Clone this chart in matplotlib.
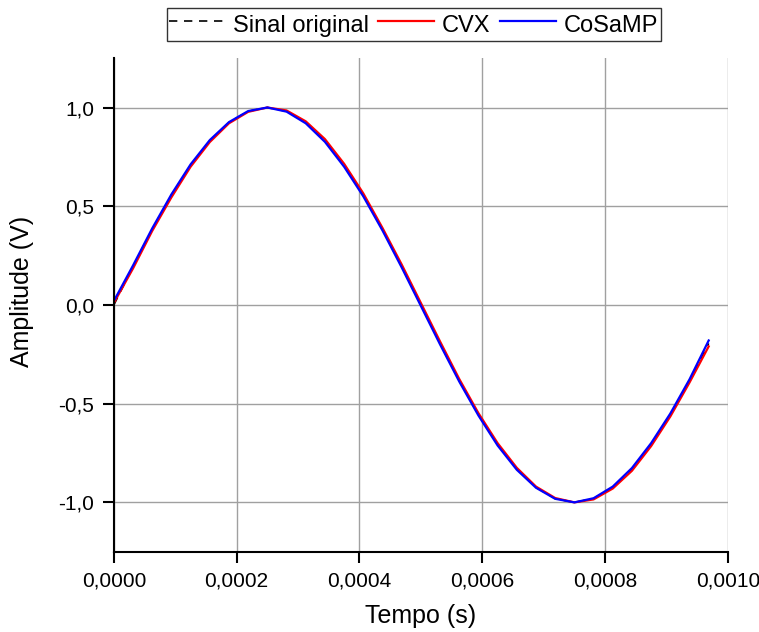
import numpy as np
import matplotlib.pyplot as plt
from matplotlib.ticker import FuncFormatter, MultipleLocator

plt.rcParams['font.family'] = ['Liberation Sans', 'DejaVu Sans']

# tempo das amostras (s)
tempo = [0.0, 0.00003125, 0.0000625, 0.00009375, 0.000125, 0.00015625, 0.0001875, 0.00021875,
         0.00025, 0.00028125, 0.0003125, 0.00034375, 0.000375, 0.00040625, 0.0004375, 0.00046875,
         0.0005, 0.00053125, 0.0005625, 0.00059375, 0.000625, 0.00065625, 0.0006875, 0.00071875,
         0.00075, 0.00078125, 0.0008125, 0.00084375, 0.000875, 0.00090625, 0.0009375, 0.00096875]

sinal_original = [0.0, 0.195, 0.383, 0.556, 0.707, 0.831, 0.924, 0.981,
                  1.0, 0.981, 0.924, 0.831, 0.707, 0.556, 0.383, 0.195,
                  0.0, -0.195, -0.383, -0.556, -0.707, -0.831, -0.924, -0.981,
                  -1.0, -0.981, -0.924, -0.831, -0.707, -0.556, -0.383, -0.195]

cvx = [0.01, 0.185, 0.375, 0.545, 0.70, 0.825, 0.92, 0.978,
       1.0, 0.985, 0.93, 0.84, 0.715, 0.565, 0.39, 0.205,
       0.01, -0.185, -0.375, -0.548, -0.70, -0.825, -0.92, -0.978,
       -1.0, -0.985, -0.93, -0.84, -0.715, -0.565, -0.393, -0.21]

cosamp = [0.02, 0.20, 0.388, 0.56, 0.712, 0.835, 0.926, 0.982,
          1.0, 0.979, 0.92, 0.826, 0.70, 0.55, 0.377, 0.19,
          -0.005, -0.20, -0.388, -0.56, -0.712, -0.835, -0.926, -0.982,
          -1.0, -0.979, -0.92, -0.826, -0.70, -0.55, -0.377, -0.18]

fig = plt.figure(figsize=(7.59, 6.32), dpi=100)
ax = fig.add_axes([0.150, 0.127, 0.809, 0.781])

ax.plot(tempo, sinal_original, color='black', linestyle=(0, (5, 4)), linewidth=1.2, label='Sinal original')
ax.plot(tempo, cvx, color='red', linewidth=1.6, label='CVX')
ax.plot(tempo, cosamp, color='blue', linewidth=1.6, label='CoSaMP')

ax.set_xlim(0, 0.001)
ax.set_ylim(-1.25, 1.25)
ax.xaxis.set_major_locator(MultipleLocator(0.0002))
ax.yaxis.set_major_locator(MultipleLocator(0.5))
ax.xaxis.set_major_formatter(FuncFormatter(lambda v, p: f'{v:.4f}'.replace('.', ',')))
ax.yaxis.set_major_formatter(FuncFormatter(lambda v, p: f'{v:.1f}'.replace('.', ',').replace('-0,0', '0,0')))

ax.grid(True, color='#a0a0a0', linewidth=1.0)
ax.set_axisbelow(True)
for s in ['top', 'right']:
    ax.spines[s].set_visible(False)
for s in ['left', 'bottom']:
    ax.spines[s].set_linewidth(1.5)
ax.tick_params(direction='out', length=8, width=1.5, labelsize=15, pad=6)

ax.set_xlabel('Tempo (s)', fontsize=18, labelpad=10)
ax.set_ylabel('Amplitude (V)', fontsize=18)
ax.yaxis.set_label_coords(-0.13, 0.528)

leg = fig.legend(loc='upper center', bbox_to_anchor=(0.545, 0.987), ncol=3, fontsize=17,
                 frameon=True, fancybox=False, edgecolor='black', handlelength=2.35,
                 handleheight=1.45, handletextpad=0.35, columnspacing=0.4,
                 borderpad=0.1, borderaxespad=0)
leg.get_frame().set_linewidth(1.0)

fig.savefig('out.png', dpi=100)
